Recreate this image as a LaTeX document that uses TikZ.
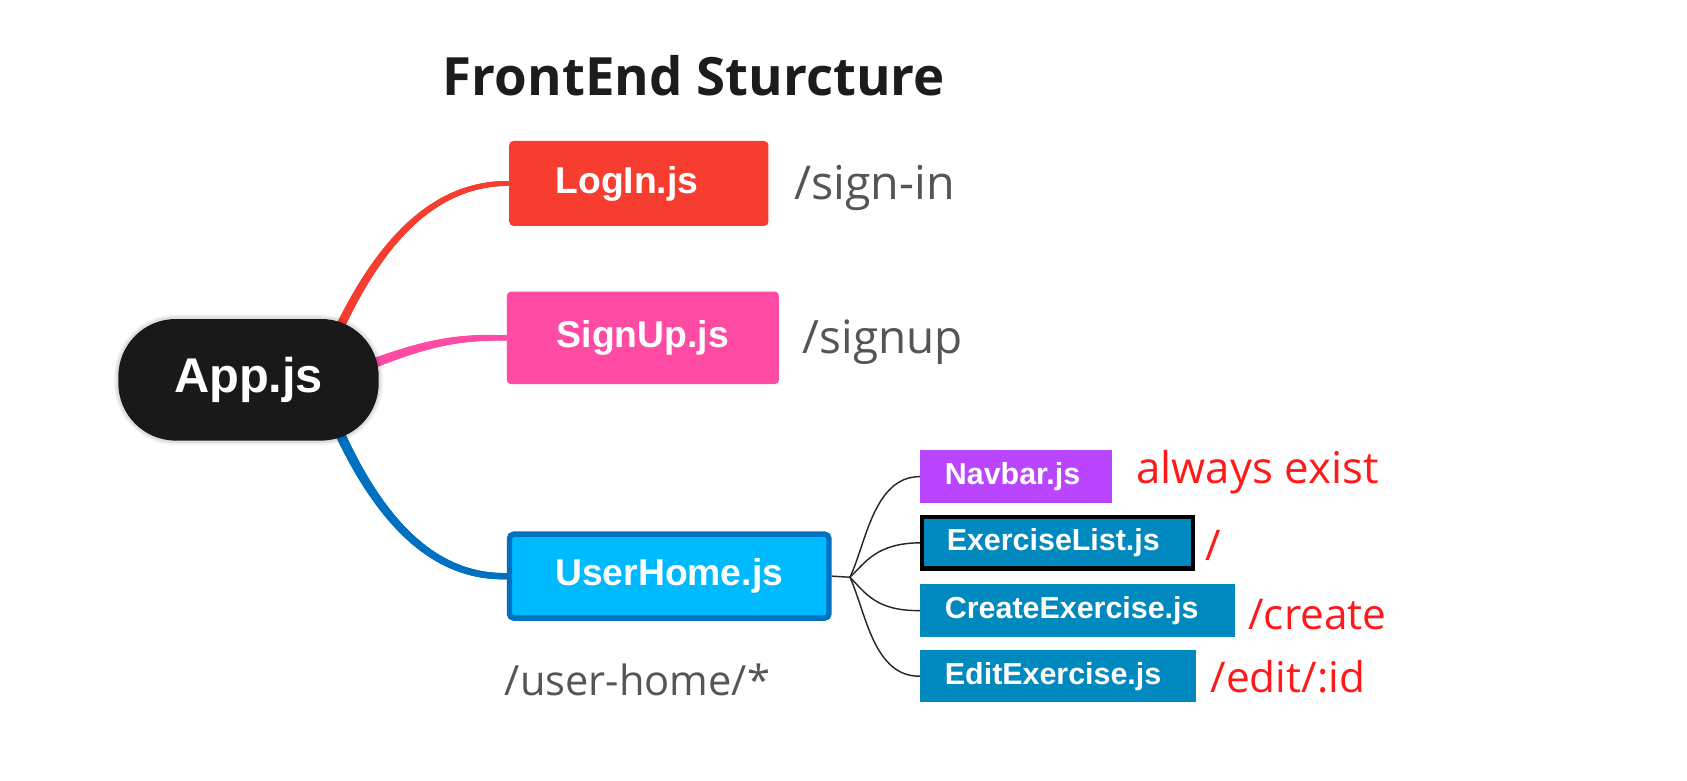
\documentclass[tikz,border=0pt]{standalone}
\usepackage{fontspec}
\setmainfont{Liberation Sans}
\newfontfamily\labfont{Open Sans}
\newfontfamily\titlefont{Open Sans}
\usetikzlibrary{backgrounds,decorations.markings}
\definecolor{cLogin}{HTML}{F63D30}
\definecolor{cSignup}{HTML}{FF4BA3}
\definecolor{cHomeFill}{HTML}{00BAFF}
\definecolor{cHomeLine}{HTML}{0070C0}
\definecolor{cNav}{HTML}{BA45FF}
\definecolor{cChild}{HTML}{0089BF}
\definecolor{cGray}{HTML}{555555}
\definecolor{cTitle}{HTML}{1C1C1C}
\definecolor{cRed}{HTML}{FF1A1A}
\tikzset{
  bigbox/.style={rounded corners=3pt, text=white, font=\fontsize{26}{30}\selectfont\bfseries, inner sep=0pt},
  child/.style={anchor=west, text=white, fill=cChild, font=\fontsize{21.2}{24}\selectfont\bfseries, inner xsep=17.25pt, inner ysep=0pt, align=left, minimum height=36.5pt},
  route/.style={text=cGray, inner sep=0pt, anchor=west},
  redroute/.style={text=cRed, font=\labfont\fontsize{29.5}{34}\selectfont, inner sep=0pt, anchor=west},
  taper/.style n args={3}{line width=2*#2, line cap=round, draw=#3,
    postaction={decoration={markings,
      mark=between positions 0 and 1 step 0.8pt with {%
        \pgfmathsetmacro\rr{#1-(#1-#2)*(\pgfkeysvalueof{/pgf/decoration/mark info/distance from start})/(\pgfdecoratedpathlength)}%
        \fill[#3] (0,0) circle (\rr pt);}}, decorate}},
  twig/.style={line width=1pt, draw=black!85},
  halo/.style={preaction={draw=black, draw opacity=0.05, line width=6pt},
               preaction={draw=black, draw opacity=0.07, line width=3.5pt}}
}
\begin{document}
\begin{tikzpicture}[x=0.75pt,y=-0.75pt]
\useasboundingbox (0,0) rectangle (1568,725);

\node[text=cTitle, font=\titlefont\bfseries\fontsize{36.8}{44}\selectfont, inner sep=0pt] (title) at (645,70) {FrontEnd Sturcture};

\node[halo, fill=black!90, rounded corners=40pt, minimum width=181.5pt, minimum height=84.75pt, text=white, font=\fontsize{34}{40}\selectfont\bfseries, inner sep=0pt] (app) at (231,353) {App.js};

\node[bigbox, fill=cLogin, anchor=west, inner xsep=32.25pt, text width=116.25pt, align=left, minimum height=59.25pt] (login) at (473,170.5) {LogIn.js};
\node[bigbox, fill=cSignup, minimum width=189.75pt, minimum height=64.5pt] (signup) at (597.5,314) {SignUp.js};
\node[bigbox, fill=cHomeFill, draw=cHomeLine, line width=3.75pt, minimum width=222.75pt, minimum height=58.5pt] (home) at (622,535.5) {UserHome.js};

\node[route, font=\labfont\fontsize{32.5}{38}\selectfont] (r1) at (738,175) {/sign-in};
\node[route, font=\labfont\fontsize{32}{38}\selectfont] (r2) at (746,318) {/signup};
\node[route, font=\labfont\fontsize{29}{34}\selectfont] (r3) at (469,632) {/user-home/*};

\node[child, fill=cNav, text width=99pt] (nav) at (855,443) {Navbar.js};
\node[child, draw=black, line width=3pt, text width=154.5pt, minimum height=36pt] (list) at (855,504.5) {ExerciseList.js};
\node[child, text width=185.25pt] (create) at (855,567.5) {CreateExercise.js};
\node[child, text width=157.5pt] (edit) at (855,628.5) {EditExercise.js};

\node[redroute, font=\labfont\fontsize{30.5}{34}\selectfont] (t1) at (1056,439) {always exist};
\node[redroute] (t2) at (1120,507) {/};
\node[redroute] (t3) at (1160,571) {/create};
\node[redroute] (t4) at (1125,629) {/edit/:id};

\coordinate (j) at (790,536.5);

\begin{scope}[on background layer]
\fill[white] (0,0) rectangle (1568,725);
\draw[taper={3.4}{1.7pt}{cLogin}] (app.center) ++(70,-15) .. controls (345,230) and (400,170) .. (login.west);
\draw[taper={3.75}{1.9pt}{cSignup}] (app.center) ++(90,-5) .. controls (390,320) and (420,313) .. (signup.west);
\draw[taper={3.75}{2.2pt}{cHomeLine}] (app.center) ++(70,15) .. controls (345,480) and (400,537) .. (home.west);
\draw[twig] (home.east) -- (j);
\draw[twig] (j) .. controls (805,505) and (812,443) .. (nav.west);
\draw[twig] (j) .. controls (805,522) and (815,505) .. (list.west);
\draw[twig] (j) .. controls (805,552) and (815,568) .. (create.west);
\draw[twig] (j) .. controls (805,570) and (812,629) .. (edit.west);
\end{scope}
\end{tikzpicture}
\end{document}
